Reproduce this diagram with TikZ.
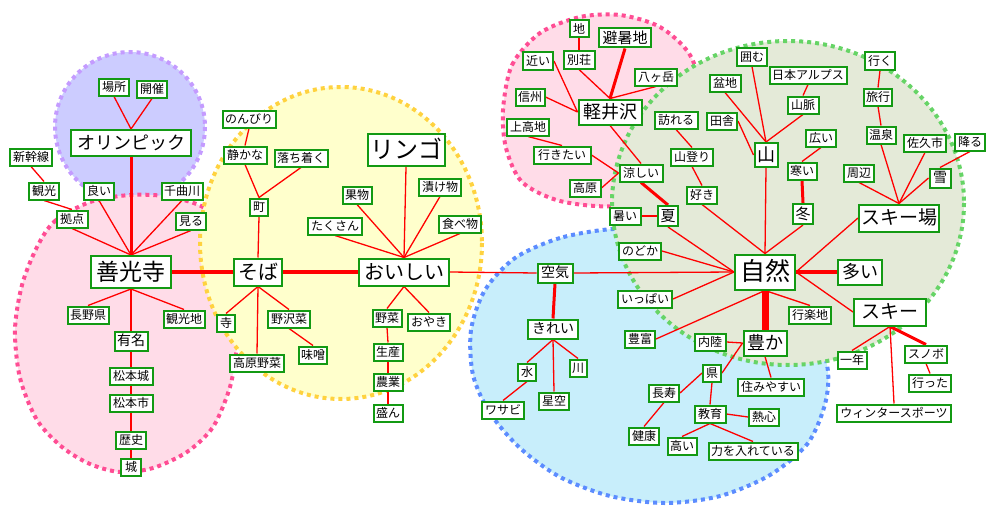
\documentclass[tikz,border=0pt]{standalone}
\usepackage{fontspec}
\setmainfont{Noto Sans CJK JP}
\definecolor{ngreen}{HTML}{139A13}
\definecolor{ered}{HTML}{FF0000}
\definecolor{pufill}{HTML}{CCCCFF}
\definecolor{pudot}{HTML}{C49BFF}
\definecolor{pkfill}{HTML}{FFDCE8}
\definecolor{pkdot}{HTML}{FF4D94}
\definecolor{yefill}{HTML}{FFFFCC}
\definecolor{yedot}{HTML}{FFD23F}
\definecolor{blfill}{HTML}{C8EEFB}
\definecolor{bldot}{HTML}{5C8CFF}
\definecolor{grfill}{HTML}{E4EAD8}
\definecolor{grdot}{HTML}{66D466}
\pgfdeclarelayer{bglayer}
\pgfdeclarelayer{edgelayer}
\pgfsetlayers{bglayer,edgelayer,main}
\tikzset{
  fs/.style={font=\fontsize{#1pt}{#1pt}\selectfont, text height=0.8*#1pt, text depth=0.1*#1pt},
  nd/.style={draw=ngreen, line width=2pt, fill=white, inner sep=0pt},
  sm/.style={nd, fs=12, minimum height=17pt},
  md/.style={nd, fs=14, minimum height=19pt},
  ed/.style={draw=ered, line width=1.3pt},
  ed3/.style={draw=ered, line width=3pt},
  ed4/.style={draw=ered, line width=4pt},
  ed7/.style={draw=ered, line width=7pt},
  blob/.style={line width=4pt, dash pattern=on 4pt off 4pt},
}
\begin{document}
\begin{tikzpicture}[x=1pt,y=-1pt]
\useasboundingbox (0,0) rectangle (1000,519);
% background groups
\begin{pgfonlayer}{bglayer}
\fill[pufill] (130,127) circle (75);
\draw[blob, pudot] (130,127) circle (75);
\path[blob, draw=pkdot, fill=pkfill] plot[smooth cycle] coordinates {(37,247) (55,221) (90,202) (130,195) (170,197) (210,212) (236,262) (241,310) (237,347) (230,387) (213,427) (187,452) (153,468) (120,472) (90,464) (62,447) (37,420) (20,378) (15,330) (22,285)};
\path[blob, draw=yedot, fill=yefill] (341,243) ellipse [x radius=141, y radius=156];
\path[blob, draw=bldot, fill=blfill] plot[smooth cycle] coordinates {(613,229) (560,238) (515,258) (485,290) (471,330) (473,375) (490,413) (520,448) (560,477) (610,496) (665,503) (720,496) (770,475) (808,443) (826,400) (826,360) (800,300) (720,250) (660,232)};
\path[blob, draw=pkdot, fill=pkfill] plot[smooth cycle] coordinates {(503,110) (512,65) (540,33) (580,17) (620,15) (660,27) (690,55) (703,100) (697,150) (665,190) (615,206) (560,201) (522,182) (506,148)};
\path[blob, draw=grdot, fill=grfill] (788,203) ellipse [x radius=176, y radius=162];
\end{pgfonlayer}

% nodes: left
\node[sm, minimum width=30pt] (basho) at (114,87) {場所};
\node[sm, minimum width=30pt] (kaisai) at (152,89) {開催};
\node[nd, fs=18, minimum width=120pt, minimum height=26pt] (olymp) at (131,143) {オリンピック};
\node[sm, minimum width=42pt] (shinkansen) at (31,157) {新幹線};
\node[sm, minimum width=30pt] (kanko) at (44,191) {観光};
\node[sm, minimum width=30pt] (yoi) at (99,191) {良い};
\node[sm, minimum width=41pt] (chikuma) at (182,191) {千曲川};
\node[sm, minimum width=31pt] (kyoten) at (72,219) {拠点};
\node[sm, minimum width=30pt] (miru) at (191,221) {見る};
\node[nd, fs=23, minimum width=80pt, minimum height=32pt] (zenkoji) at (131,272) {善光寺};
\node[sm, minimum width=41pt] (naganoken) at (88,315) {長野県};
\node[sm, minimum width=41pt] (kankochi) at (184,319) {観光地};
\node[md, minimum width=33pt] (yumei) at (131,341) {有名};
\node[sm, minimum width=43pt] (matsumotojo) at (131,376) {松本城};
\node[sm, minimum width=43pt] (matsumotoshi) at (131,403) {松本市};
\node[sm, minimum width=30pt] (rekishi) at (131,440) {歴史};
\node[sm, minimum width=20pt] (shiro) at (131,467) {城};

% nodes: yellow
\node[sm, minimum width=53pt] (nonbiri) at (249,119) {のんびり};
\node[sm, minimum width=43pt] (shizuka) at (245,155) {静かな};
\node[sm, minimum width=53pt] (ochitsuku) at (301,158) {落ち着く};
\node[sm, minimum width=18pt] (machi) at (259,207) {町};
\node[nd, fs=20, minimum width=48pt, minimum height=27pt] (soba) at (258,272) {そば};
\node[nd, fs=24, minimum width=77pt, minimum height=32pt] (ringo) at (406,150) {リンゴ};
\node[sm, minimum width=29pt] (kudamono) at (357,195) {果物};
\node[sm, minimum width=42pt] (tsukemono) at (440,187) {漬け物};
\node[sm, minimum width=54pt] (takusan) at (335,226) {たくさん};
\node[sm, minimum width=42pt] (tabemono) at (460,224) {食べ物};
\node[nd, fs=20, minimum width=90pt, minimum height=27pt] (oishii) at (404,272) {おいしい};
\node[sm, minimum width=18pt] (tera) at (226,323) {寺};
\node[sm, minimum width=42pt] (nozawana) at (289,319) {野沢菜};
\node[sm, minimum width=28pt] (miso) at (313,355) {味噌};
\node[sm, minimum width=54pt] (kogenyasai) at (257,363) {高原野菜};
\node[sm, minimum width=29pt] (yasai) at (387,318) {野菜};
\node[sm, minimum width=42pt] (oyaki) at (429,322) {おやき};
\node[sm, minimum width=29pt] (seisan) at (388,352) {生産};
\node[sm, minimum width=29pt] (nogyo) at (388,382) {農業};
\node[sm, minimum width=29pt] (sakan) at (388,413) {盛ん};

% nodes: Karuizawa
\node[sm, minimum width=19pt] (chi) at (579,29) {地};
\node[nd, fs=15, minimum width=52pt, minimum height=19pt] (hishochi) at (625,38) {避暑地};
\node[sm, minimum width=30pt] (chikai) at (538,61) {近い};
\node[sm, minimum width=31pt] (besso) at (579,60) {別荘};
\node[sm, minimum width=42pt] (yatsugatake) at (656,77) {八ヶ岳};
\node[sm, minimum width=29pt] (shinshu) at (530,97) {信州};
\node[nd, fs=18, minimum width=63pt, minimum height=25pt] (karuizawa) at (610,112) {軽井沢};
\node[sm, minimum width=42pt] (kamikochi) at (528,127) {上高地};
\node[sm, minimum width=57pt] (ikitai) at (562,155) {行きたい};
\node[sm, minimum width=43pt] (suzushii) at (641,173) {涼しい};
\node[sm, minimum width=31pt] (kogen) at (585,188) {高原};
\node[sm, minimum width=31pt] (atsui) at (625,216) {暑い};
\node[nd, fs=15, minimum width=20pt, minimum height=20pt] (natsu) at (668,216) {夏};

% nodes: green
\node[sm, minimum width=30pt] (kakomu) at (752,57) {囲む};
\node[sm, minimum width=77pt] (alps) at (808,75) {日本アルプス};
\node[sm, minimum width=31pt] (bonchi) at (725,83) {盆地};
\node[sm, minimum width=31pt] (sanmyaku) at (803,105) {山脈};
\node[sm, minimum width=30pt] (inaka) at (722,121) {田舎};
\node[nd, fs=18, minimum width=23pt, minimum height=24pt] (yama) at (766,155) {山};
\node[sm, minimum width=30pt] (hiroi) at (821,138) {広い};
\node[sm, minimum width=29pt] (samui) at (802,171) {寒い};
\node[nd, fs=15, minimum width=20pt, minimum height=20pt] (fuyu) at (803,214) {冬};
\node[sm, minimum width=30pt] (iku) at (880,61) {行く};
\node[sm, minimum width=28pt] (ryoko) at (878,97) {旅行};
\node[sm, minimum width=29pt] (onsen) at (881,135) {温泉};
\node[sm, minimum width=42pt] (sakushi) at (925,143) {佐久市};
\node[sm, minimum width=30pt] (furu) at (970,142) {降る};
\node[sm, minimum width=30pt] (shuhen) at (859,173) {周辺};
\node[nd, fs=14, minimum width=21pt, minimum height=19pt] (yuki) at (940,178) {雪};
\node[nd, fs=19, minimum width=80pt, minimum height=27pt] (skijo) at (899,218) {スキー場};
\node[sm, minimum width=43pt] (otozureru) at (676,120) {訪れる};
\node[sm, minimum width=42pt] (yamanobori) at (692,157) {山登り};
\node[sm, minimum width=30pt] (suki) at (702,195) {好き};
\node[sm, minimum width=42pt] (nodoka) at (640,251) {のどか};
\node[nd, fs=25, minimum width=60pt, minimum height=35pt] (shizen) at (765,272) {自然};
\node[nd, fs=18, minimum width=44pt, minimum height=25pt] (oi) at (860,272) {多い};
\node[sm, minimum width=54pt] (ippai) at (645,299) {いっぱい};
\node[sm, minimum width=42pt] (korakuchi) at (810,315) {行楽地};
\node[sm, minimum width=30pt] (hofu) at (640,339) {豊富};
\node[nd, fs=18, minimum width=43pt, minimum height=25pt] (yutaka) at (765,343) {豊か};
\node[sm, minimum width=31pt] (nairiku) at (710,342) {内陸};
\node[nd, fs=19, minimum width=72pt, minimum height=27pt] (ski) at (890,312) {スキー};
\node[sm, minimum width=29pt] (ichinen) at (852,360) {一年};
\node[sm, minimum width=42pt] (snobo) at (926,354) {スノボ};
\node[sm, minimum width=42pt] (itta) at (930,383) {行った};
\node[sm, minimum width=114pt] (winter) at (894,413) {ウィンタースポーツ};

% nodes: blue
\node[md, minimum width=35pt] (kuki) at (555,273) {空気};
\node[md, minimum width=50pt] (kirei) at (553,329) {きれい};
\node[sm, minimum width=18pt] (mizu) at (527,372) {水};
\node[sm, minimum width=17pt] (kawa) at (578,368) {川};
\node[sm, minimum width=42pt] (wasabi) at (503,410) {ワサビ};
\node[sm, minimum width=30pt] (hoshizora) at (554,401) {星空};
\node[sm, minimum width=30pt] (choju) at (664,393) {長寿};
\node[sm, minimum width=18pt] (ken) at (712,373) {県};
\node[sm, minimum width=66pt] (sumiyasui) at (771,387) {住みやすい};
\node[sm, minimum width=31pt] (kyoiku) at (710,414) {教育};
\node[sm, minimum width=30pt] (nesshin) at (764,417) {熱心};
\node[sm, minimum width=30pt] (kenko) at (644,436) {健康};
\node[sm, minimum width=29pt] (takai) at (682,446) {高い};
\node[sm, minimum width=89pt] (chikara) at (753,451) {力を入れている};

% edges
\begin{pgfonlayer}{edgelayer}
% left
\draw[ed] (basho.south) -- (olymp.north);
\draw[ed] (kaisai.south) -- (olymp.north);
\draw[ed3] (olymp.south) -- (zenkoji.north);
\draw[ed] (shinkansen.south) -- (kanko.north);
\draw[ed] (kanko.south) -- (kyoten.north);
\draw[ed] (kyoten.south) -- (zenkoji.north);
\draw[ed] (yoi.south) -- (zenkoji.north);
\draw[ed] (chikuma.south) -- (zenkoji.north);
\draw[ed] (miru.south) -- (zenkoji.north);
\draw[ed4] (zenkoji.east) -- (soba.west);
\draw[ed] (zenkoji.south) -- (naganoken.north);
\draw[ed] (zenkoji.south) -- (kankochi.north);
\draw[ed] (zenkoji.south) -- (yumei.north);
\draw[ed] (yumei.south) -- (matsumotojo.north);
\draw[ed] (matsumotojo.south) -- (matsumotoshi.north);
\draw[ed] (matsumotoshi.south) -- (rekishi.north);
\draw[ed] (rekishi.south) -- (shiro.north);
% yellow
\draw[ed] (nonbiri.south) -- (shizuka.north);
\draw[ed] (shizuka.south) -- (machi.north);
\draw[ed] (ochitsuku.south) -- (machi.north);
\draw[ed] (machi.south) -- (soba.north);
\draw[ed4] (soba.east) -- (oishii.west);
\draw[ed] (ringo.south) -- (oishii.north);
\draw[ed] (kudamono.south) -- (oishii.north);
\draw[ed] (tsukemono.south) -- (oishii.north);
\draw[ed] (takusan.south) -- (oishii.north);
\draw[ed] (tabemono.south) -- (oishii.north);
\draw[ed] (oishii.east) -- (kuki.west);
\draw[ed] (kuki.east) -- (shizen.west);
\draw[ed] (soba.south) -- (tera.north);
\draw[ed] (soba.south) -- (nozawana.north);
\draw[ed] (soba.south) -- (kogenyasai.north);
\draw[ed] (nozawana.south) -- (miso.north);
\draw[ed] (oishii.south) -- (yasai.north);
\draw[ed] (oishii.south) -- (oyaki.north);
\draw[ed] (yasai.south) -- (seisan.north);
\draw[ed] (seisan.south) -- (nogyo.north);
\draw[ed] (nogyo.south) -- (sakan.north);
% Karuizawa
\draw[ed] (chi.south) -- (besso.north);
\draw[ed3] (hishochi.south) -- (karuizawa.north);
\draw[ed] (chikai.east) -- (karuizawa.west);
\draw[ed] (shinshu.east) -- (karuizawa.west);
\draw[ed] (besso.south) -- (karuizawa.north);
\draw[ed] (yatsugatake.south) -- (karuizawa.north);
\draw[ed] (karuizawa.south) -- (suzushii.north);
\draw[ed] (kamikochi.south) -- (ikitai.north);
\draw[ed] (ikitai.east) -- (suzushii.west);
\draw[ed] (kogen.east) -- (suzushii.west);
\draw[ed3] (suzushii.south) -- (natsu.north);
\draw[ed] (atsui.east) -- (natsu.west);
% green
\draw[ed] (natsu.south) -- (shizen.west);
\draw[ed] (nodoka.east) -- (shizen.west);
\draw[ed] (ippai.east) -- (shizen.west);
\draw[ed] (hofu.east) -- (shizen.south);
\draw[ed] (shizen.south) -- (korakuchi.north);
\draw[ed7] (shizen.south) -- (yutaka.north);
\draw[ed4] (shizen.east) -- (oi.west);
\draw[ed] (shizen.east) -- (ski.west);
\draw[ed] (skijo.west) -- (shizen.east);
\draw[ed] (yama.south) -- (shizen.north);
\draw[ed] (suki.south) -- (shizen.north);
\draw[ed] (fuyu.south) -- (shizen.north);
\draw[ed] (otozureru.south) -- (yamanobori.north);
\draw[ed] (yamanobori.south) -- (suki.north);
\draw[ed] (kakomu.south) -- (yama.north);
\draw[ed] (bonchi.south) -- (yama.north);
\draw[ed] (sanmyaku.south) -- (yama.north);
\draw[ed] (alps.south) -- (sanmyaku.north);
\draw[ed] (inaka.east) -- (yama.west);
\draw[ed] (hiroi.south) -- (samui.north);
\draw[ed3] (samui.south) -- (fuyu.north);
\draw[ed] (iku.south) -- (ryoko.north);
\draw[ed] (ryoko.south) -- (onsen.north);
\draw[ed] (onsen.south) -- (skijo.north);
\draw[ed] (sakushi.south) -- (skijo.north);
\draw[ed] (shuhen.south) -- (skijo.north);
\draw[ed] (yuki.west) -- (skijo.north);
\draw[ed] (furu.south) -- (yuki.north);
\draw[ed] (ski.south) -- (ichinen.north);
\draw[ed3] (ski.south) -- (snobo.north);
\draw[ed] (ski.south) -- (winter.north);
\draw[ed] (snobo.south) -- (itta.north);
% blue
\draw[ed3] (kuki.south) -- (kirei.north);
\draw[ed] (kirei.south) -- (mizu.north);
\draw[ed] (kirei.south) -- (hoshizora.north);
\draw[ed] (kirei.south) -- (kawa.north);
\draw[ed] (mizu.south) -- (wasabi.north);
\draw[ed] (nairiku.east) -- (yutaka.west);
\draw[ed] (ken.east) -- (yutaka.west);
\draw[ed] (yutaka.south) -- (sumiyasui.north);
\draw[ed] (choju.east) -- (ken.west);
\draw[ed] (choju.south) -- (kenko.north);
\draw[ed] (ken.south) -- (kyoiku.north);
\draw[ed] (kyoiku.east) -- (nesshin.west);
\draw[ed] (kyoiku.south) -- (takai.north);
\draw[ed] (kyoiku.south) -- (chikara.north);
\end{pgfonlayer}
\end{tikzpicture}
\end{document}
